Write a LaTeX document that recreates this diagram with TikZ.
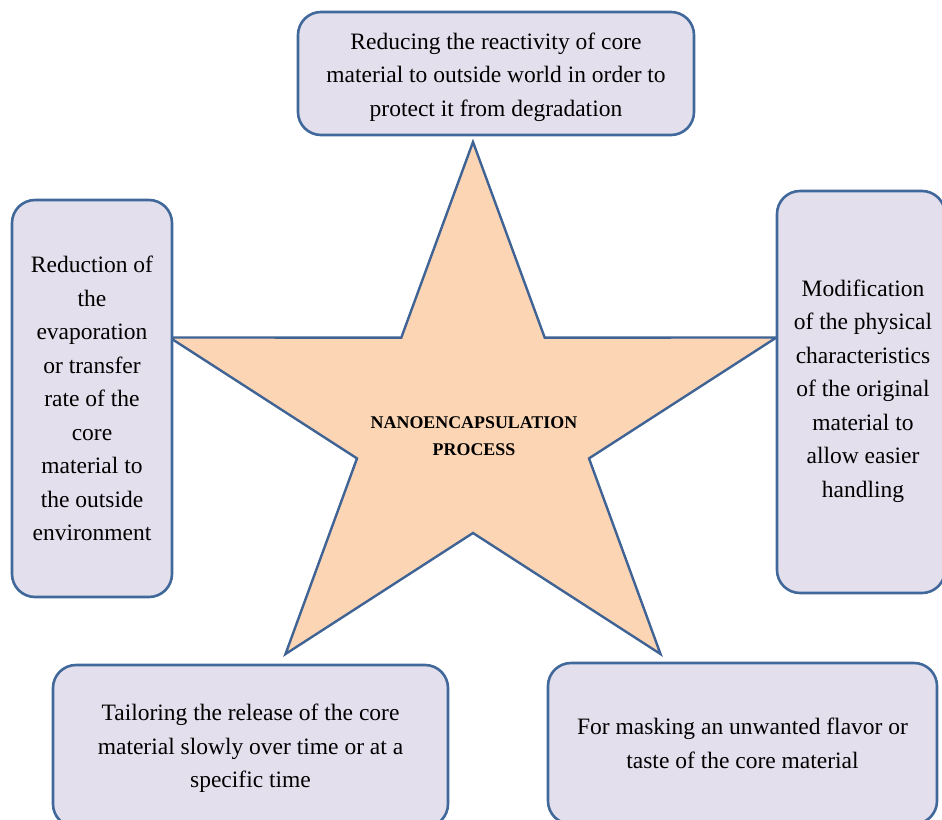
\documentclass[tikz,border=0pt]{standalone}
\usepackage{fontspec}
\setmainfont{Liberation Serif}
\definecolor{boxfill}{HTML}{E4DFEC}
\definecolor{boxline}{HTML}{41689A}
\definecolor{starfill}{HTML}{FCD5B4}
\definecolor{starline}{HTML}{3F6394}
\begin{document}
\begin{tikzpicture}[x=1pt,y=-1pt,
  box/.style={draw=boxline, fill=boxfill, line width=2.6pt, rounded corners=23pt,
    align=center, inner sep=0pt, font=\fontsize{23.5}{33.5}\selectfont},
  boxtext/.style={align=center, inner sep=0pt, font=\fontsize{23.5}{33.5}\selectfont},
  starshape/.style={draw=starline, fill=starfill, line width=2.4pt, line join=miter},
  centertext/.style={align=center, inner sep=0pt, font=\fontsize{17.9}{27}\selectfont\bfseries}]
\useasboundingbox (0,0) rectangle (942,819);
\clip (0,0) rectangle (942,819);
% star vertices
\coordinate (o1) at (473,142);
\coordinate (i1) at (544.7,337.6);
\coordinate (o2) at (776.4,337.5);
\coordinate (i2) at (589,458.4);
\coordinate (o3) at (660.5,654);
\coordinate (i3) at (473,533);
\coordinate (o4) at (285.5,654);
\coordinate (i4) at (357,458.4);
\coordinate (o5) at (169.6,337.5);
\coordinate (i5) at (401.3,337.6);
\draw[starshape] (o1) -- (i1) -- (o2) -- (i2) -- (o3) -- (i3) -- (o4) -- (i4) -- (o5) -- (i5) -- cycle;
\node[centertext] (center) at (474,436.5) {NANOENCAPSULATION\\PROCESS};
% boxes
\node[box, minimum width=396pt, minimum height=123pt] (top) at (496,73.5) {};
\node[boxtext] (toptext) at (496,77)
  {Reducing the reactivity of core\\material to outside world in order to\\protect it from degradation};
\node[box, minimum width=160pt, minimum height=397pt] (left) at (92,398.5)
  {Reduction of\\the\\evaporation\\or transfer\\rate of the\\core\\material to\\the outside\\environment};
\node[box, minimum width=168pt, minimum height=402pt] (right) at (861,392) {};
\node[boxtext] (righttext) at (863,391)
  {Modification\\of the physical\\characteristics\\of the original\\material to\\allow easier\\handling};
\node[box, minimum width=395pt, minimum height=162pt] (botleft) at (250.5,746) {};
\node[boxtext] (botlefttext) at (250.5,748.5)
  {Tailoring the release of the core\\material slowly over time or at a\\specific time};
\node[box, minimum width=389pt, minimum height=161pt] (botright) at (742.5,743.5)
  {For masking an unwanted flavor or\\taste of the core material};
\end{tikzpicture}
\end{document}
